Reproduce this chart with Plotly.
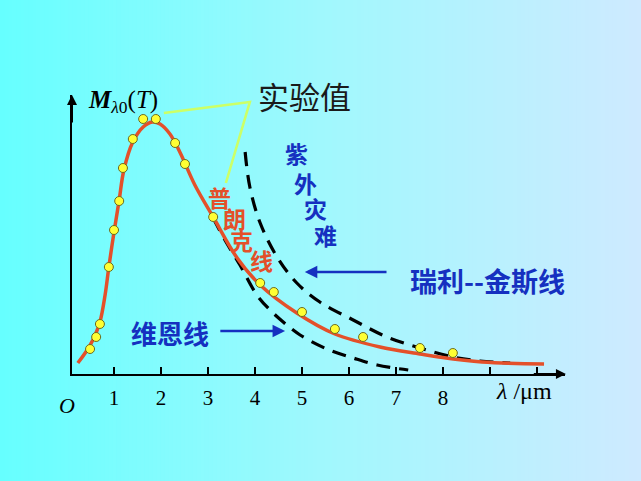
import plotly.graph_objects as go

# ---------------- data ----------------
# experimental points (wavelength um, relative M)
exp_lam = [0.49, 0.62, 0.70, 0.89, 1.00, 1.11, 1.19, 1.40, 1.62, 1.89,
           2.30, 2.51, 3.11, 4.11, 4.40, 5.00, 5.70, 6.30, 7.51, 8.21]
exp_M = [10.0, 14.8, 20.0, 42.8, 57.6, 69.2, 82.4, 94.0, 102.0, 102.0,
         92.4, 84.0, 62.8, 36.4, 32.8, 24.8, 18.0, 14.8, 10.4, 8.4]

# Planck curve
planck_lam = [0.23, 0.40, 0.55, 0.70, 0.81, 0.89, 1.00, 1.11, 1.21, 1.40,
              1.62, 1.81, 1.98, 2.19, 2.40, 2.72, 3.11, 3.62, 4.11, 4.89,
              5.70, 6.66, 7.51, 7.91, 8.83, 10.15]
planck_M = [4.4, 8.8, 13.6, 20.8, 31.6, 42.8, 56.8, 69.6, 81.6, 92.8,
            98.8, 100.8, 100.0, 96.0, 88.8, 75.6, 62.8, 46.4, 35.6, 24.4,
            16.0, 10.8, 8.0, 6.8, 4.8, 4.0]

# Wien curve
wien_lam = [3.11, 3.36, 3.68, 4.04, 4.32, 4.60, 4.96, 5.53, 6.09, 6.60, 7.26]
wien_M = [62.4, 53.6, 43.6, 31.6, 25.6, 20.8, 15.6, 10.0, 6.4, 3.6, 1.6]

# Rayleigh-Jeans curve
rj_lam = [3.79, 3.89, 4.11, 4.47, 4.89, 5.38, 6.09, 6.81, 7.51, 8.21, 8.79, 9.43]
rj_M = [88.8, 74.8, 60.4, 46.8, 36.4, 28.8, 21.6, 14.8, 10.4, 6.8, 5.2, 4.4]

# pointer lines for "实验值"
pointer_lam = [2.06, 3.89, 3.38]
pointer_M = [104.4, 108.8, 76.4]

tick_vals = [1, 2, 3, 4, 5, 6, 7, 8, 9, 10]
tick_text = ["1", "2", "3", "4", "5", "6", "7", "8", "", ""]

X_RANGE = [0.106, 10.596]
Y_RANGE = [0, 111.6]

RED = "#e4502a"
BLUE = "#1530c0"

fig = go.Figure()

fig.add_trace(go.Scatter(x=pointer_lam, y=pointer_M, mode="lines",
                         line=dict(color="#ccff66", width=2.6),
                         hoverinfo="skip"))
fig.add_trace(go.Scatter(x=rj_lam, y=rj_M, mode="lines",
                         line=dict(color="black", width=3.2, dash="14px,9px", shape="spline"),
                         hoverinfo="skip"))
fig.add_trace(go.Scatter(x=wien_lam, y=wien_M, mode="lines",
                         line=dict(color="black", width=3.2, dash="14px,9px", shape="spline"),
                         hoverinfo="skip"))
fig.add_trace(go.Scatter(x=planck_lam, y=planck_M, mode="lines",
                         line=dict(color=RED, width=3.5, shape="spline"),
                         hoverinfo="skip"))
fig.add_trace(go.Scatter(x=exp_lam, y=exp_M, mode="markers",
                         marker=dict(color="#ffff33", size=9,
                                     line=dict(color="#6b6b20", width=1)),
                         hoverinfo="skip"))

# ---------------- background gradient ----------------
W, H = 641, 481
ML, MR, MT, MB = 72, 76, 95, 107
PW, PH = W - ML - MR, H - MT - MB
stops = [(0.0, (102, 255, 255)), (0.5, (160, 248, 253)), (1.0, (206, 234, 255))]


def grad(t):
    for (t0, c0), (t1, c1) in zip(stops[:-1], stops[1:]):
        if t <= t1:
            f = (t - t0) / (t1 - t0)
            return tuple(int(round(a + (b - a) * f)) for a, b in zip(c0, c1))
    return stops[-1][1]


shapes = []
N = 160
for i in range(N):
    px0 = i * W / N
    px1 = (i + 1) * W / N + 0.6
    r, g, b = grad((i + 0.5) / N)
    shapes.append(dict(type="rect", xref="paper", yref="paper",
                       x0=(px0 - ML) / PW, x1=(px1 - ML) / PW,
                       y0=-MB / PH - 0.01, y1=(H - MB) / PH + 0.01,
                       fillcolor=f"rgb({r},{g},{b})", line=dict(width=0),
                       layer="below"))


def px_to_paper(px, py):
    return (px - ML) / PW, (H - MB - py) / PH


serif = "Liberation Serif"
cjk = "Noto Sans CJK SC"

o_x, o_y = px_to_paper(67, 405)
lam_x, lam_y = px_to_paper(524, 391)

annotations = [
    # axis arrowheads
    dict(x=X_RANGE[1] + 0.02, y=0, ax=9.9, ay=0, xref="x", yref="y", axref="x", ayref="y",
         showarrow=True, arrowhead=2, arrowsize=1, arrowwidth=2, arrowcolor="black", text=""),
    dict(x=X_RANGE[0], y=Y_RANGE[1], ax=X_RANGE[0], ay=100, xref="x", yref="y",
         axref="x", ayref="y", showarrow=True, arrowhead=2, arrowsize=1, arrowwidth=2,
         arrowcolor="black", text=""),
    # O
    dict(x=o_x, y=o_y, xref="paper", yref="paper", xanchor="center", yanchor="middle",
         text="<i>O</i>", showarrow=False,
         font=dict(family=serif, size=22, color="black")),
    # lambda / um
    dict(x=lam_x, y=lam_y, xref="paper", yref="paper", xanchor="center", yanchor="middle",
         text="<i>λ</i> /μm", showarrow=False,
         font=dict(family=serif, size=24, color="black")),
    # M label
    dict(x=1.2, y=109.2, xref="x", yref="y",
         text="<b><i>M</i></b><sub><i>λ</i>0</sub>(<i>T</i>)", showarrow=False,
         font=dict(family=serif, size=25, color="black")),
    # 实验值
    dict(x=5.05, y=111.4, xref="x", yref="y", text="实验值", showarrow=False,
         font=dict(family=cjk, size=31, color="#1a1a1a")),
    # Wien label + arrow
    dict(x=2.2, y=16.8, xref="x", yref="y", text="维恩线", showarrow=False,
         font=dict(family=cjk, size=26, color=BLUE, weight="bold")),
    dict(x=4.64, y=17.2, ax=3.23, ay=17.2, xref="x", yref="y", axref="x", ayref="y",
         showarrow=True, arrowhead=2, arrowsize=1, arrowwidth=2.5, arrowcolor=BLUE, text=""),
    # RJ label + arrow
    dict(x=8.95, y=37.6, xref="x", yref="y", text="瑞利--金斯线", showarrow=False,
         font=dict(family=cjk, size=27, color=BLUE, weight="bold")),
    dict(x=5.06, y=40.8, ax=6.83, ay=40.8, xref="x", yref="y", axref="x", ayref="y",
         showarrow=True, arrowhead=2, arrowsize=1, arrowwidth=2.5, arrowcolor=BLUE, text=""),
]

# staircase labels
for ch, lx, ly in zip("普朗克线", [3.25, 3.56, 3.72, 4.14], [70.8, 62.4, 53.6, 45.6]):
    annotations.append(dict(x=lx, y=ly, xref="x", yref="y", text=ch, showarrow=False,
                            font=dict(family=cjk, size=23, color=RED, weight="bold")))
for ch, lx, ly in zip("紫外灾难", [4.89, 5.08, 5.28, 5.49], [88.4, 76.4, 66.4, 55.6]):
    annotations.append(dict(x=lx, y=ly, xref="x", yref="y", text=ch, showarrow=False,
                            font=dict(family=cjk, size=23, color=BLUE, weight="bold")))

fig.update_layout(
    width=W, height=H,
    margin=dict(l=ML, r=MR, t=MT, b=MB, pad=0),
    paper_bgcolor="#66ffff",
    plot_bgcolor="rgba(0,0,0,0)",
    showlegend=False,
    shapes=shapes,
    annotations=annotations,
    xaxis=dict(range=X_RANGE, showgrid=False, zeroline=False, showline=True,
               linecolor="black", linewidth=2, ticks="inside", ticklen=7,
               tickwidth=2, tickcolor="black", tickvals=tick_vals, ticktext=tick_text,
               ticklabelstandoff=4,
               tickfont=dict(family=serif, size=21, color="black")),
    yaxis=dict(range=Y_RANGE, showgrid=False, zeroline=False, showline=True,
               linecolor="black", linewidth=2, ticks="", showticklabels=False),
)

fig.write_html("out.html")
